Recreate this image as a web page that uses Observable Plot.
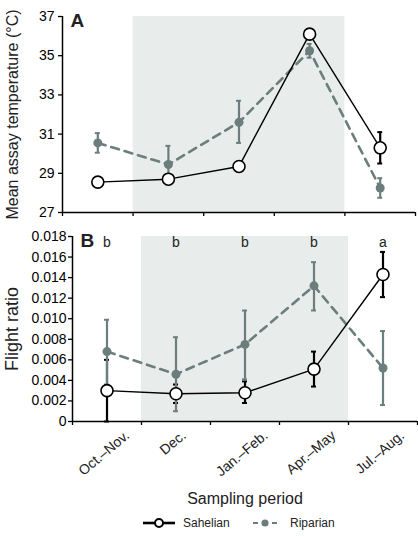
<!DOCTYPE html>
<html>
<head>
<meta charset="utf-8">
<script src="https://cdn.jsdelivr.net/npm/d3@7"></script>
<script src="https://cdn.jsdelivr.net/npm/@observablehq/plot@0.6"></script>
<style>
  html, body { margin: 0; padding: 0; background: #fff; }
  #chart { width: 418px; }
  #chart svg { display: block; }
  .legend { position: relative; width: 418px; height: 24px; font-family: 'Liberation Sans', Arial, Helvetica, sans-serif; font-size: 12px; color: #222; }
  .legend svg, .legend span { position: absolute; }
</style>
</head>
<body>
<div id="chart"></div>
<script>
// ---- data ----
const periods = ["Oct.–Nov.", "Dec.", "Jan.–Feb.", "Apr.–May", "Jul.–Aug."];

// Panel A: mean assay temperature (°C)
const tempSahelian   = [28.55, 28.70, 29.35, 36.10, 30.30];
const tempSahelianLo = [28.50, 28.45, 29.30, 36.00, 29.50];
const tempSahelianHi = [28.60, 28.95, 29.40, 36.20, 31.10];
const tempRiparian   = [30.55, 29.45, 31.60, 35.25, 28.25];
const tempRiparianLo = [30.05, 28.50, 30.55, 34.90, 27.75];
const tempRiparianHi = [31.05, 30.40, 32.70, 35.60, 28.75];

// Panel B: flight ratio
const flightSahelian   = [0.0030, 0.0027, 0.0028, 0.0051, 0.0143];
const flightSahelianLo = [0.0000, 0.0018, 0.0018, 0.0034, 0.0121];
const flightSahelianHi = [0.0060, 0.0036, 0.0039, 0.0068, 0.0165];
const flightRiparian   = [0.0068, 0.0046, 0.0075, 0.0132, 0.0052];
const flightRiparianLo = [0.0036, 0.0010, 0.0041, 0.0108, 0.0016];
const flightRiparianHi = [0.0099, 0.0082, 0.0108, 0.0155, 0.0088];

const letters = ["b", "b", "b", "b", "a"];

const tempTicks = [27, 29, 31, 33, 35, 37];
const flightTicks = [0, 0.002, 0.004, 0.006, 0.008, 0.010, 0.012, 0.014, 0.016, 0.018];
const bandEdges = [0, 1, 2, 3, 4, 5];
const shadedPeriods = ["Dec.", "Apr.–May"]; // shaded span from Dec. to Apr.–May

// ---- styling ----
const FONT = "'Liberation Sans', Arial, Helvetica, sans-serif";
const GREY = "#6b7e7d";
const SHADE = "#e8ecea";

const rows = (v, lo, hi) => v.map((d, i) => ({x: i + 0.5, v: d, lo: lo[i], hi: hi[i]}));
const shade = [{x1: periods.indexOf(shadedPeriods[0]), x2: periods.indexOf(shadedPeriods[1]) + 1}];

function seriesMarks(S, R, cap) {
  return [
    Plot.ruleX(S, {x: "x", y1: "lo", y2: "hi", stroke: "#000", strokeWidth: 2.2}),
    Plot.ruleY(S, {y: "lo", x1: d => d.x - cap, x2: d => d.x + cap, stroke: "#000", strokeWidth: 2}),
    Plot.ruleY(S, {y: "hi", x1: d => d.x - cap, x2: d => d.x + cap, stroke: "#000", strokeWidth: 2}),
    Plot.ruleX(R, {x: "x", y1: "lo", y2: "hi", stroke: GREY, strokeWidth: 2.2}),
    Plot.ruleY(R, {y: "lo", x1: d => d.x - cap, x2: d => d.x + cap, stroke: GREY, strokeWidth: 2}),
    Plot.ruleY(R, {y: "hi", x1: d => d.x - cap, x2: d => d.x + cap, stroke: GREY, strokeWidth: 2}),
    Plot.line(R, {x: "x", y: "v", stroke: GREY, strokeWidth: 2.6, strokeDasharray: "8,6"}),
    Plot.dot(R, {x: "x", y: "v", r: 4.5, fill: GREY, stroke: "none"}),
    Plot.line(S, {x: "x", y: "v", stroke: "#000", strokeWidth: 1.4}),
    Plot.dot(S, {x: "x", y: "v", r: 6, fill: "#fff", stroke: "#000", strokeWidth: 1.6})
  ];
}

// ---- Panel A ----
const plotA = Plot.plot({
  width: 418, height: 222,
  marginTop: 16, marginBottom: 10, marginLeft: 62, marginRight: 3,
  x: {domain: [0, 5]},
  y: {domain: [27, 37]},
  style: {fontFamily: FONT, fontSize: "14px", color: "#000", background: "#fff"},
  marks: [
    Plot.rect(shade, {x1: "x1", x2: "x2", fill: SHADE}),
    Plot.axisY({ticks: tempTicks, tickSize: 4, tickPadding: 4, label: null, fontSize: 14, strokeWidth: 1.3}),
    Plot.axisX({ticks: bandEdges, tickSize: 4, tickFormat: () => "", label: null, strokeWidth: 1.3}),
    Plot.ruleX([0], {stroke: "#000", strokeWidth: 1.5}),
    Plot.ruleY([27], {stroke: "#000", strokeWidth: 1.5}),
    ...seriesMarks(rows(tempSahelian, tempSahelianLo, tempSahelianHi),
                   rows(tempRiparian, tempRiparianLo, tempRiparianHi), 0.035),
    Plot.text(["A"], {frameAnchor: "top-left", textAnchor: "start", lineAnchor: "middle", dx: 8, dy: 4, fontSize: 19, fontWeight: "bold", fill: "#222"}),
    Plot.text(["Mean assay temperature (°C)"], {frameAnchor: "left", rotate: -90, dx: -50, fontSize: 16, fill: "#222", textAnchor: "middle", lineAnchor: "middle"})
  ]
});

// ---- Panel B ----
const ctx = document.createElement("canvas").getContext("2d");
ctx.font = `14px ${FONT}`;
const ANGLE = 40;
const cosA = Math.cos(ANGLE * Math.PI / 180);
const labelMarks = periods.map(p => Plot.text([p], {
  x: d => periods.indexOf(d) + 0.5, y: 0, text: d => d,
  rotate: -ANGLE, textAnchor: "end", lineAnchor: "middle",
  dx: 0.5 * cosA * ctx.measureText(p).width - 3, dy: 12,
  fontSize: 14, fill: "#222"
}));

const plotB = Plot.plot({
  width: 418, height: 290,
  marginTop: 14, marginBottom: 91, marginLeft: 72, marginRight: 1,
  x: {domain: [0, 5]},
  y: {domain: [0, 0.018]},
  style: {fontFamily: FONT, fontSize: "14px", color: "#000", background: "#fff"},
  marks: [
    Plot.rect(shade, {x1: "x1", x2: "x2", fill: SHADE}),
    Plot.axisY({ticks: flightTicks, tickSize: 4, tickPadding: 2, label: null, fontSize: 14, strokeWidth: 1.3,
                tickFormat: d => d === 0 ? "0" : d.toFixed(3)}),
    Plot.axisX({ticks: bandEdges, tickSize: 4, tickFormat: () => "", label: null, strokeWidth: 1.3}),
    Plot.ruleX([0], {stroke: "#000", strokeWidth: 1.5}),
    Plot.ruleY([0], {stroke: "#000", strokeWidth: 1.5}),
    ...seriesMarks(rows(flightSahelian, flightSahelianLo, flightSahelianHi),
                   rows(flightRiparian, flightRiparianLo, flightRiparianHi), 0.036),
    Plot.text(letters, {x: (d, i) => i + 0.5, frameAnchor: "top", text: d => d, lineAnchor: "middle", dy: 6, fontSize: 14, fill: "#222"}),
    Plot.text(["B"], {frameAnchor: "top-left", textAnchor: "start", lineAnchor: "middle", dx: 8, dy: 4.5, fontSize: 19, fontWeight: "bold", fill: "#222"}),
    Plot.text(["Flight ratio"], {frameAnchor: "left", rotate: -90, dx: -60, fontSize: 18, fill: "#222", textAnchor: "middle", lineAnchor: "middle"}),
    ...labelMarks,
    Plot.text(["Sampling period"], {frameAnchor: "bottom", lineAnchor: "middle", dy: 77, fontSize: 16, fill: "#222"})
  ]
});

const chart = document.getElementById("chart");
chart.append(plotA, plotB);

// ---- legend ----
const legend = document.createElement("div");
legend.className = "legend";
legend.innerHTML = `
  <svg width="34" height="12" style="left:142px;top:5px">
    <line x1="1" x2="33" y1="6" y2="6" stroke="#000" stroke-width="2.6"/>
    <circle cx="17" cy="6" r="4" fill="#fff" stroke="#000" stroke-width="2"/>
  </svg>
  <span style="left:183px;top:4px">Sahelian</span>
  <svg width="26" height="12" style="left:252px;top:5px">
    <line x1="1" x2="6" y1="6" y2="6" stroke="${GREY}" stroke-width="2"/>
    <circle cx="13" cy="6" r="3.6" fill="${GREY}"/>
    <line x1="20" x2="25" y1="6" y2="6" stroke="${GREY}" stroke-width="2"/>
  </svg>
  <span style="left:290px;top:4px">Riparian</span>`;
chart.append(legend);
</script>
</body>
</html>
